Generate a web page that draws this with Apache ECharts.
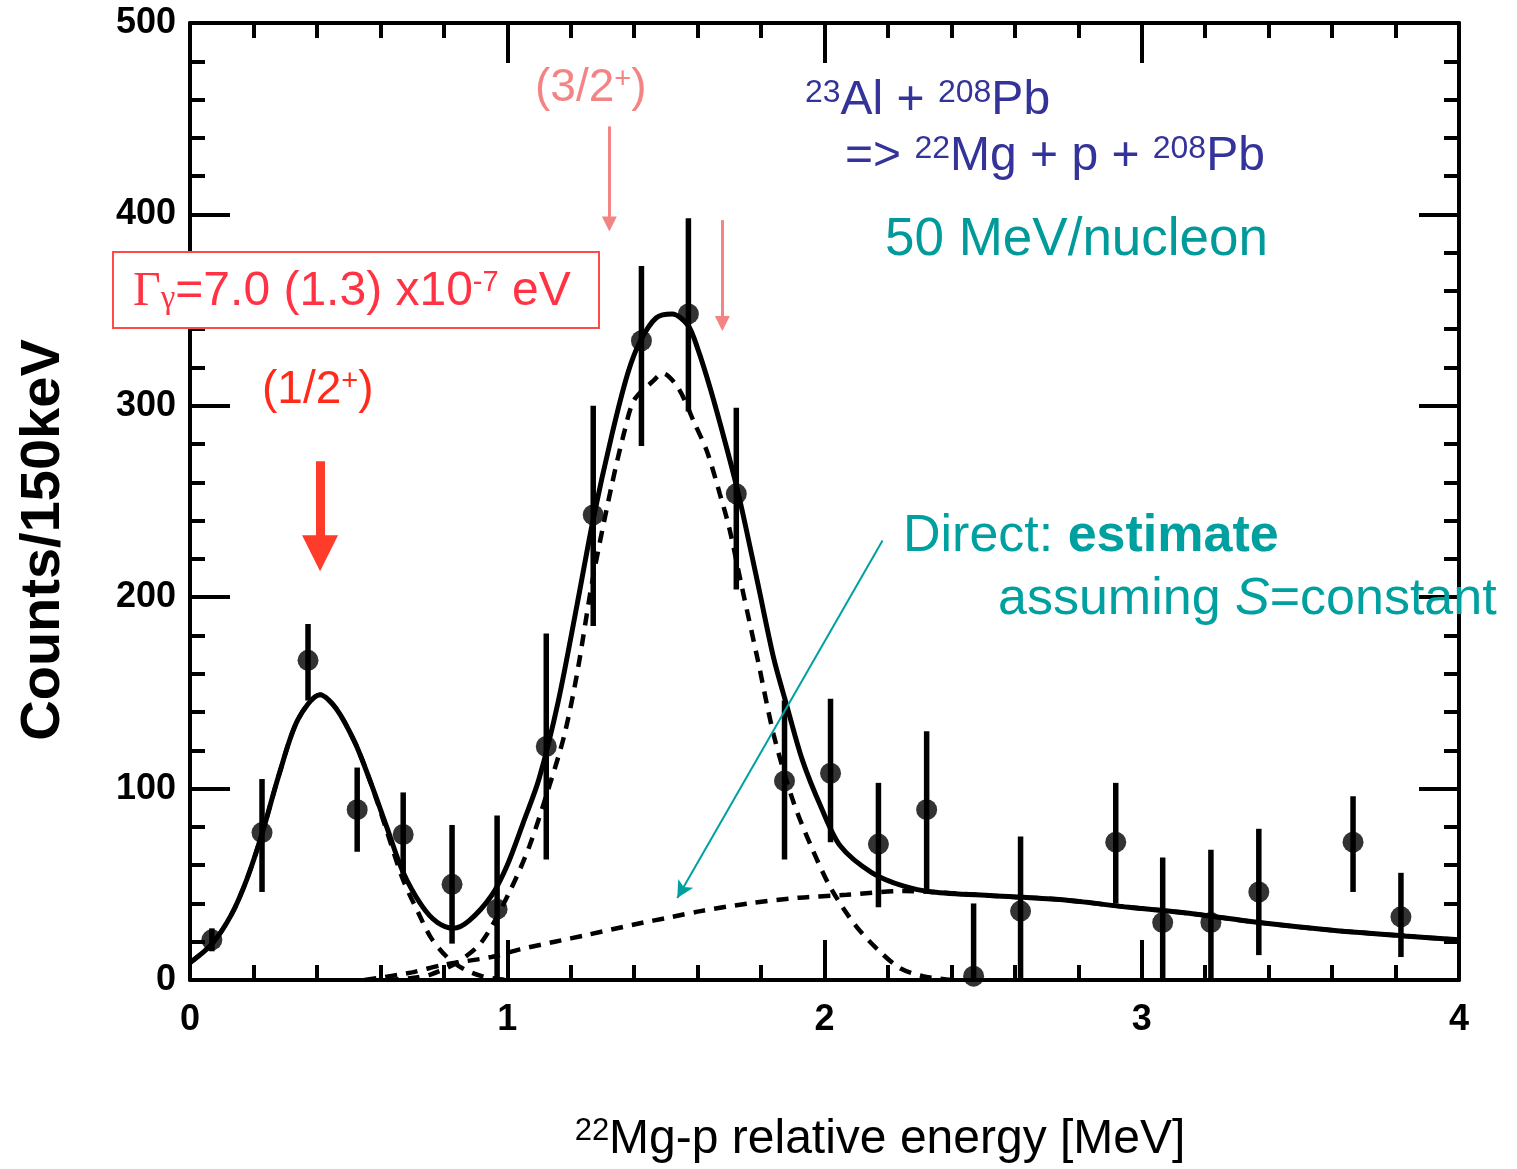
<!DOCTYPE html>
<html>
<head>
<meta charset="utf-8">
<script src="https://cdn.jsdelivr.net/npm/echarts@6/dist/echarts.min.js"></script>
<style>
  html, body { margin: 0; padding: 0; background: #fff; }
  #chart { width: 1517px; height: 1169px; }
</style>
</head>
<body>
<div id="chart"></div>
<script>
// measured points (bin centres, 150 keV bins)
const energy = [0.069, 0.227, 0.372, 0.527, 0.672, 0.826, 0.968, 1.123, 1.271, 1.423, 1.571, 1.722,
  1.874, 2.019, 2.170, 2.322, 2.470, 2.618, 2.918, 3.066, 3.218, 3.369, 3.666, 3.817]
const counts = [21, 77, 167, 89, 76, 50, 37, 122, 243, 334, 348, 254, 104, 108, 71, 89, 2, 36, 72, 30, 30, 46, 72, 33]
const errLow = [15, 46, 146, 67, 54, 19, 0, 63, 185, 279, 297, 204, 63, 72, 38, 47, 0, 0, 40, 0, 0, 13, 46, 12]
const errHigh = [27, 105, 186, 111, 98, 81, 86, 181, 300, 373, 398, 299, 146, 147, 103, 130, 40, 75, 103, 64, 68, 79, 96, 56]

// total fit (solid)
const totalX = [0, 0.07, 0.13, 0.18, 0.23, 0.28, 0.34, 0.41, 0.46, 0.52, 0.57, 0.62, 0.67, 0.73, 0.78, 0.83, 0.88,
  0.95, 1.0, 1.05, 1.10, 1.16, 1.22, 1.27, 1.33, 1.38, 1.42, 1.47, 1.52, 1.57, 1.60, 1.64, 1.69, 1.73, 1.79,
  1.84, 1.88, 1.93, 1.99, 2.05, 2.15, 2.25, 2.34, 2.53, 2.74, 2.96, 3.14, 3.37, 3.60, 3.83, 4.0]
const totalY = [9, 19, 34, 53, 78, 107, 136, 149, 142, 124, 103, 80, 57, 39, 30, 27, 31,
  44, 60, 82, 105, 145, 196, 240, 285, 317, 334, 346, 348, 342, 330, 309, 279, 253, 207,
  168, 144, 115, 90, 70, 56, 49, 46, 44, 42, 38, 35, 30, 26, 23, 21]

// 1/2+ resonance component (dashed)
const lowX = [0, 0.07, 0.13, 0.18, 0.23, 0.28, 0.34, 0.41, 0.46, 0.52, 0.57, 0.62, 0.67, 0.72, 0.76, 0.81, 0.86, 0.92, 1.0]
const lowY = [9, 19, 34, 53, 78, 107, 136, 149, 142, 124, 103, 78, 53, 35, 22, 12, 6, 2, 0]

// 3/2+ resonance component (dashed)
const bigX = [0.62, 0.70, 0.76, 0.84, 0.92, 1.01, 1.07, 1.13, 1.18, 1.22, 1.27, 1.33, 1.37, 1.40, 1.46, 1.49, 1.54,
  1.59, 1.63, 1.67, 1.70, 1.74, 1.79, 1.84, 1.90, 1.96, 2.02, 2.10, 2.18, 2.24, 2.31, 2.40]
const bigY = [0, 1, 3, 9, 20, 47, 70, 100, 128, 160, 210, 259, 287, 303, 313, 317, 309,
  291, 276, 254, 236, 205, 167, 128, 94, 69, 48, 28, 14, 6, 2, 0]

// direct component (dashed)
const directX = [0.55, 0.70, 0.80, 0.95, 1.04, 1.15, 1.25, 1.40, 1.52, 1.61, 1.76, 1.92, 2.07, 2.25, 2.34, 2.53,
  2.74, 2.96, 3.14, 3.37, 3.60, 3.83, 4.0]
const directY = [0, 4, 8, 12, 16, 20, 23.5, 29, 33, 36, 40, 43, 44.5, 46.5, 46, 44,
  42, 38, 35, 30, 26, 23, 21]

const xTicks = { min: 0, max: 4, interval: 1 }
const yTicks = { min: 0, max: 500, interval: 100 }

const pair = (xs, ys) => xs.map((x, i) => [x, ys[i]])

const tickFont = {
  fontFamily: '"Liberation Sans", Arial, sans-serif',
  fontWeight: 'bold',
  fontSize: 36,
  color: '#000'
}

function axisBase(extra) {
  return Object.assign({
    type: 'value',
    axisLine: { show: true, onZero: false, lineStyle: { color: '#000', width: 4 } },
    axisTick: { show: true, inside: true, length: 40, lineStyle: { color: '#000', width: 4 } },
    minorTick: { show: true, splitNumber: 5, length: 15, lineStyle: { color: '#000', width: 4 } },
    splitLine: { show: false }
  }, extra)
}

const chart = echarts.init(document.getElementById('chart'))

const sansFont = '"Liberation Sans", Arial, sans-serif'
const blue = '#333399'
const teal = '#00a0a0'
const red = '#ff2a1a'
const pink = '#f48484'

chart.setOption({
  animation: false,
  backgroundColor: '#fff',
  grid: { left: 190, right: 58, top: 23, bottom: 189 },
  xAxis: [
    axisBase(Object.assign({ position: 'bottom', axisLabel: Object.assign({ margin: 22 }, tickFont) }, xTicks)),
    axisBase(Object.assign({ position: 'top', axisLabel: { show: false } }, xTicks))
  ],
  yAxis: [
    axisBase(Object.assign({ position: 'left', axisLabel: Object.assign({ margin: 14 }, tickFont) }, yTicks)),
    axisBase(Object.assign({ position: 'right', axisLabel: { show: false } }, yTicks))
  ],
  series: [
    {
      name: 'direct',
      type: 'line',
      data: pair(directX, directY),
      smooth: 0.3,
      showSymbol: false,
      lineStyle: { color: '#000', width: 4.5, type: [12, 9] },
      z: 2
    },
    {
      name: 'low',
      type: 'line',
      data: pair(lowX, lowY),
      smooth: 0.3,
      showSymbol: false,
      lineStyle: { color: '#000', width: 4.5, type: [12, 9] },
      z: 2
    },
    {
      name: 'peak',
      type: 'line',
      data: pair(bigX, bigY),
      smooth: 0.3,
      showSymbol: false,
      lineStyle: { color: '#000', width: 4.5, type: [12, 9] },
      z: 2
    },
    {
      name: 'total',
      type: 'line',
      data: pair(totalX, totalY),
      smooth: 0.3,
      showSymbol: false,
      lineStyle: { color: '#000', width: 5 },
      z: 3
    },
    {
      name: 'err',
      type: 'custom',
      data: energy.map((e, i) => [e, errLow[i], errHigh[i]]),
      encode: { x: 0, y: [1, 2] },
      renderItem: function (params, api) {
        const lo = api.coord([api.value(0), api.value(1)])
        const hi = api.coord([api.value(0), api.value(2)])
        return {
          type: 'line',
          shape: { x1: lo[0], y1: lo[1], x2: hi[0], y2: hi[1] },
          style: { stroke: '#000', lineWidth: 5.5 }
        }
      },
      z: 4
    },
    {
      name: 'data',
      type: 'scatter',
      data: pair(energy, counts),
      symbolSize: 21,
      itemStyle: { color: '#000' },
      z: 5,
      markLine: {
        silent: true,
        animation: false,
        label: { show: false },
        emphasis: { disabled: true },
        data: [
          [
            { coord: [0.41, 271], symbol: 'none', lineStyle: { color: '#ff3b2a', width: 9, type: 'solid' } },
            { coord: [0.41, 223], symbol: 'triangle', symbolSize: [36, 36] }
          ],
          [
            { coord: [1.322, 446], symbol: 'none', lineStyle: { color: pink, width: 3, type: 'solid' } },
            { coord: [1.322, 395], symbol: 'triangle', symbolSize: [15, 15] }
          ],
          [
            { coord: [1.678, 397], symbol: 'none', lineStyle: { color: pink, width: 3, type: 'solid' } },
            { coord: [1.678, 343], symbol: 'triangle', symbolSize: [15, 15] }
          ],
          [
            { coord: [2.183, 229.6], symbol: 'none', lineStyle: { color: teal, width: 2, type: 'solid' } },
            { coord: [1.536, 42.8], symbol: 'arrow', symbolSize: [13, 17] }
          ]
        ]
      }
    }
  ],
  graphic: [
    {
      type: 'text', x: 44, y: 540, rotation: Math.PI / 2,
      style: {
        text: 'Counts/150keV', font: 'bold 56px ' + sansFont, fill: '#000',
        align: 'center', verticalAlign: 'middle'
      }
    },
    {
      type: 'text', x: 880, y: 1140,
      style: {
        text: '{s|22}Mg-p relative energy [MeV]', font: '48px ' + sansFont, fill: '#000',
        align: 'center', verticalAlign: 'middle',
        rich: { s: { fontSize: 31, fontFamily: sansFont, verticalAlign: 'top', lineHeight: 30, fill: '#000' } }
      }
    },
    {
      type: 'rect', z: 10,
      shape: { x: 113, y: 252, width: 486, height: 76 },
      style: { fill: '#fff', stroke: '#ff4a4a', lineWidth: 2 }
    },
    {
      type: 'text', x: 133, y: 292, z: 11,
      style: {
        text: '{g|Γ}{y|γ}=7.0 (1.3) x10{s|-7} eV', font: '48px ' + sansFont, fill: '#ff3344',
        align: 'left', verticalAlign: 'middle',
        rich: {
          g: { fontFamily: '"Liberation Serif", serif', fontSize: 48, fill: '#ff3344' },
          y: { fontFamily: '"Liberation Serif", serif', fontSize: 33, fill: '#ff3344', verticalAlign: 'bottom', lineHeight: 12 },
          s: { fontFamily: sansFont, fontSize: 29, fill: '#ff3344', verticalAlign: 'top', lineHeight: 28 }
        }
      }
    },
    {
      type: 'text', x: 262, y: 390, z: 11,
      style: {
        text: '(1/2{s|+})', font: '46px ' + sansFont, fill: red,
        align: 'left', verticalAlign: 'middle',
        rich: { s: { fontFamily: sansFont, fontSize: 29, fill: red, verticalAlign: 'top', lineHeight: 28 } }
      }
    },
    {
      type: 'text', x: 535, y: 88, z: 11,
      style: {
        text: '(3/2{s|+})', font: '46px ' + sansFont, fill: pink,
        align: 'left', verticalAlign: 'middle',
        rich: { s: { fontFamily: sansFont, fontSize: 29, fill: pink, verticalAlign: 'top', lineHeight: 28 } }
      }
    },
    {
      type: 'text', x: 805, y: 101, z: 11,
      style: {
        text: '{s|23}Al + {s|208}Pb', font: '48px ' + sansFont, fill: blue,
        align: 'left', verticalAlign: 'middle',
        rich: { s: { fontFamily: sansFont, fontSize: 32, fill: blue, verticalAlign: 'top', lineHeight: 30 } }
      }
    },
    {
      type: 'text', x: 845, y: 157, z: 11,
      style: {
        text: '=> {s|22}Mg + p + {s|208}Pb', font: '48px ' + sansFont, fill: blue,
        align: 'left', verticalAlign: 'middle',
        rich: { s: { fontFamily: sansFont, fontSize: 32, fill: blue, verticalAlign: 'top', lineHeight: 30 } }
      }
    },
    {
      type: 'text', x: 885, y: 240, z: 11,
      style: {
        text: '50 MeV/nucleon', font: '53px ' + sansFont, fill: '#009a9a',
        align: 'left', verticalAlign: 'middle'
      }
    },
    {
      type: 'text', x: 903, y: 537, z: 11,
      style: {
        text: 'Direct: {b|estimate}', font: '52px ' + sansFont, fill: teal,
        align: 'left', verticalAlign: 'middle',
        rich: { b: { fontFamily: sansFont, fontSize: 52, fontWeight: 'bold', fill: teal } }
      }
    },
    {
      type: 'text', x: 998, y: 600, z: 11,
      style: {
        text: 'assuming {i|S}=constant', font: '52px ' + sansFont, fill: teal,
        align: 'left', verticalAlign: 'middle',
        rich: { i: { fontFamily: sansFont, fontSize: 52, fontStyle: 'italic', fill: teal } }
      }
    }
  ]
})
</script>
</body>
</html>
